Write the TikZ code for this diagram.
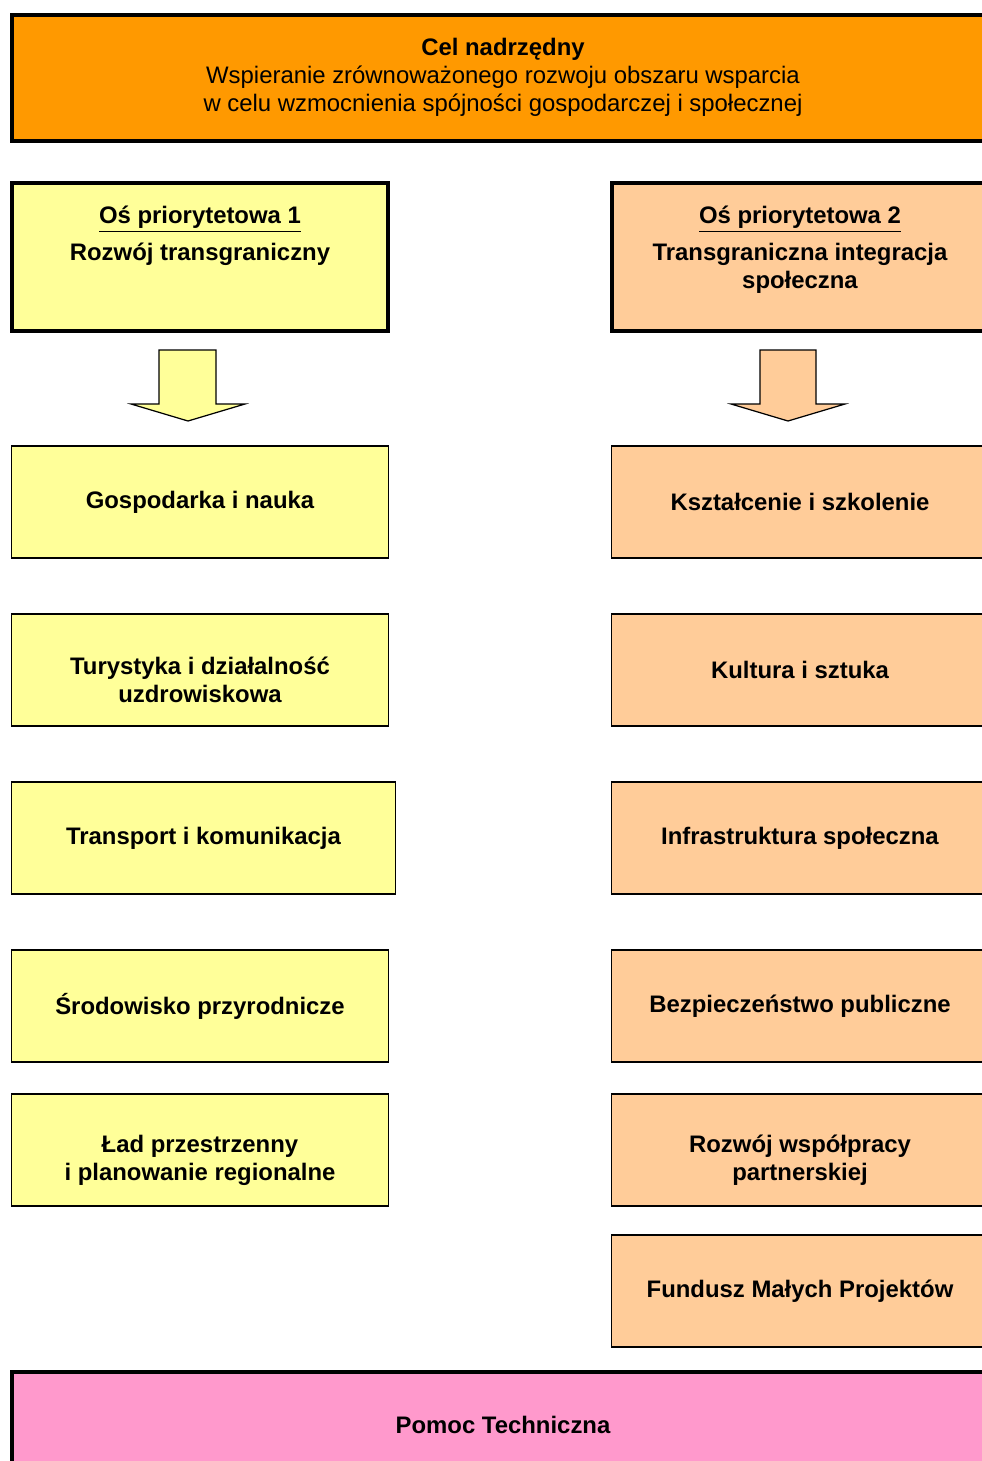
\documentclass[tikz,border=0pt]{standalone}
\usepackage{fontspec}
\setmainfont{Liberation Sans}
\definecolor{celorange}{HTML}{FF9900}
\definecolor{osyellow}{HTML}{FFFF99}
\definecolor{ostan}{HTML}{FFCC99}
\definecolor{pomocpink}{HTML}{FF99CC}
\begin{document}
\begin{tikzpicture}[x=0.02cm,y=-0.02cm,
  bigbox/.style={rectangle,draw=black,line width=2.3pt,inner sep=0pt},
  smallbox/.style={rectangle,draw=black,line width=0.7pt,inner sep=0pt,
    minimum width=7.54cm,minimum height=2.24cm},
  boxtext/.style={align=center,font=\bfseries\fontsize{13.6}{16}\selectfont},
  downarrow/.style={draw=black,line width=0.7pt}]
\useasboundingbox (0,0) rectangle (982,1461);
\clip (0,0) rectangle (982,1461);
%\draw[help lines, step=50] (0,0) grid (982,1461);
\node[bigbox,fill=celorange,minimum width=19.64cm,minimum height=2.52cm](cel) at (503,78) {};
\node[align=center,font=\fontsize{13.6}{16}\selectfont](celtxt) at (503,77) {\textbf{Cel nadrzędny}\\Wspieranie zrównoważonego rozwoju obszaru wsparcia\\w celu wzmocnienia spójności gospodarczej i społecznej};

\node[bigbox,fill=osyellow,minimum width=7.52cm,minimum height=2.96cm](os1) at (200,257) {};
\node[boxtext,anchor=north](os1txt) at (200,200) {\underline{Oś priorytetowa 1}\\[5pt]Rozwój transgraniczny};
\node[bigbox,fill=ostan,minimum width=7.52cm,minimum height=2.96cm](os2) at (800,257) {};
\node[boxtext,anchor=north](os2txt) at (800,200) {\underline{Oś priorytetowa 2}\\[5pt]Transgraniczna integracja\\społeczna};

\draw[downarrow,fill=osyellow] (159,350) -- (216,350) -- (216,404) -- (245,404) -- (188,421) -- (131,404) -- (159,404) -- cycle;
\draw[downarrow,fill=ostan] (760,350) -- (816,350) -- (816,404) -- (845,404) -- (788,421) -- (731,404) -- (760,404) -- cycle;

\node[smallbox,boxtext,fill=osyellow](gosp) at (200,502) {Gospodarka i nauka};
\node[smallbox,fill=osyellow](tur) at (200,670) {};
\node[boxtext](turtxt) at (200,680) {Turystyka i działalność\\uzdrowiskowa};
\node[smallbox,boxtext,fill=osyellow,minimum width=7.68cm](trans) at (203.5,838) {Transport i komunikacja};
\node[smallbox,boxtext,fill=osyellow](srod) at (200,1006) {Środowisko przyrodnicze};
\node[smallbox,fill=osyellow](lad) at (200,1150) {};
\node[boxtext](ladtxt) at (200,1160) {Ład przestrzenny\\i planowanie regionalne};

\node[smallbox,boxtext,fill=ostan](kszt) at (800,502) {Kształcenie i szkolenie};
\node[smallbox,boxtext,fill=ostan](kult) at (800,670) {Kultura i sztuka};
\node[smallbox,boxtext,fill=ostan](infra) at (800,838) {Infrastruktura społeczna};
\node[smallbox,boxtext,fill=ostan](bezp) at (800,1006) {Bezpieczeństwo publiczne};
\node[smallbox,fill=ostan](rozw) at (800,1150) {};
\node[boxtext](rozwtxt) at (800,1160) {Rozwój współpracy\\partnerskiej};
\node[smallbox,boxtext,fill=ostan](fmp) at (800,1291) {Fundusz Małych Projektów};

\node[bigbox,fill=pomocpink,minimum width=19.64cm,minimum height=2.12cm](pomoc) at (503,1425) {};
\node[boxtext](pomoctxt) at (503,1425) {Pomoc Techniczna};
\end{tikzpicture}
\end{document}
